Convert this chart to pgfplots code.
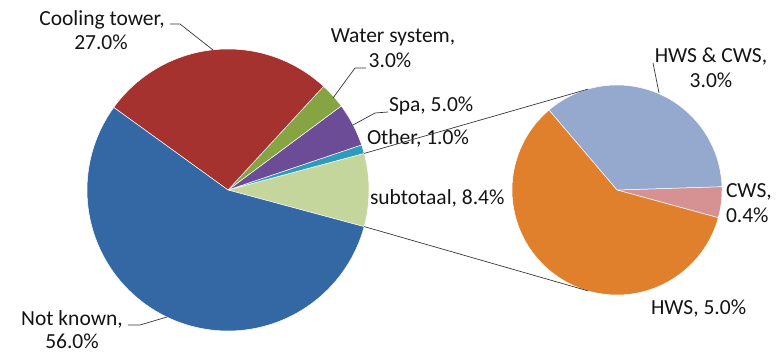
\documentclass[border=0pt]{standalone}
\usepackage{pgfplots}
\usepackage{pgfplotstable}
\pgfplotsset{compat=1.18}
\usepackage{fontspec}
\setmainfont{Carlito}

\definecolor{cNot}{RGB}{51,104,165}
\definecolor{cCool}{RGB}{166,50,48}
\definecolor{cWater}{RGB}{134,164,66}
\definecolor{cSpa}{RGB}{108,76,150}
\definecolor{cOther}{RGB}{44,156,186}
\definecolor{cSub}{RGB}{196,214,156}
\definecolor{cHWS}{RGB}{224,128,44}
\definecolor{cHC}{RGB}{149,168,206}
\definecolor{cCWS}{RGB}{214,146,146}
\definecolor{cLine}{RGB}{55,55,55}
\definecolor{cText}{RGB}{20,20,20}

% main pie, counter-clockwise from the split-off group
\pgfplotstableread{
value color
8.4  cSub
1.0  cOther
5.0  cSpa
3.0  cWater
27.0 cCool
56.0 cNot
}\maintable

% breakdown of the split-off group
\pgfplotstableread{
value color
0.4 cCWS
3.0 cHC
5.0 cHWS
}\subtable

% #1 table, #2/#3 centre, #4 radius, #5 start angle
\newcommand{\drawpie}[5]{%
  \pgfplotstablegetrowsof{#1}%
  \pgfmathtruncatemacro\lastrow{\pgfplotsretval-1}%
  \def\pietotal{0}%
  \pgfplotsforeachungrouped \i in {0,...,\lastrow}{%
    \pgfplotstablegetelem{\i}{value}\of#1%
    \pgfmathsetmacro\pietotal{\pietotal+\pgfplotsretval}%
  }%
  \def\pieacc{0}%
  \pgfplotsforeachungrouped \i in {0,...,\lastrow}{%
    \pgfplotstablegetelem{\i}{value}\of#1\let\sliceval\pgfplotsretval
    \pgfplotstablegetelem{\i}{color}\of#1\let\slicecol\pgfplotsretval
    \pgfmathsetmacro\angS{#5+\pieacc/\pietotal*360}%
    \pgfmathsetmacro\angE{#5+(\pieacc+\sliceval)/\pietotal*360}%
    \edef\next{\noexpand\addplot[fill=\slicecol, draw=white, line width=0.5pt,
      domain=\angS:\angE, samples=90]
      ({#2+#4*cos(x)},{#3+#4*sin(x)}) -- (axis cs:#2,#3) -- cycle;}%
    \next
    \pgfmathsetmacro\pieacc{\pieacc+\sliceval}%
  }%
}

\tikzset{lbl/.style={inner sep=0pt, outer sep=0pt, text=cText,
  font=\fontsize{21.5bp}{24bp}\selectfont}}

\begin{document}
\begin{tikzpicture}
\begin{axis}[
  width=779bp, height=352bp, scale only axis,
  xmin=0, xmax=779, ymin=0, ymax=352,
  hide axis, clip=false,
]
% keep the full drawing area as the picture's extent
\path (axis cs:0,0) rectangle (axis cs:779,352);

\drawpie{\maintable}{228}{162}{141}{-15.06}
\drawpie{\subtable}{617}{162}{105}{-15.3}

% leader lines
\addplot[cLine, line width=0.7pt, mark=none] coordinates {(170,328) (180,328) (213,302)};
\addplot[cLine, line width=0.7pt, mark=none] coordinates {(366,284) (355,284) (333,254)};
\addplot[cLine, line width=0.7pt, mark=none] coordinates {(388,240) (375,239) (353,227)};
\addplot[cLine, line width=0.7pt, mark=none] coordinates {(128,27) (140,27) (167,35)};
\addplot[cLine, line width=0.7pt, mark=none] coordinates {(653,289) (659,259)};

% labels
\node[lbl, anchor=base] at (axis cs:102,326) {Cooling tower,};
\node[lbl, anchor=base] at (axis cs:101,302) {27.0\%};
\node[lbl, anchor=base] at (axis cs:393,309) {Water system,};
\node[lbl, anchor=base] at (axis cs:390,284) {3.0\%};
\node[lbl, anchor=base west] at (axis cs:389,240) {Spa, 5.0\%};
\node[lbl, anchor=base west] at (axis cs:367,207) {Other, 1.0\%};
\node[lbl, anchor=base west] at (axis cs:370,147) {subtotaal, 8.4\%};
\node[lbl, anchor=base] at (axis cs:72,27) {Not known,};
\node[lbl, anchor=base] at (axis cs:72,4) {56.0\%};
\node[lbl, anchor=base] at (axis cs:711,289) {HWS \& CWS,};
\node[lbl, anchor=base] at (axis cs:711,264) {3.0\%};
\node[lbl, anchor=base west] at (axis cs:726,154) {CWS,};
\node[lbl, anchor=base west] at (axis cs:726,129) {0.4\%};
\node[lbl, anchor=base west] at (axis cs:651,37) {HWS, 5.0\%};

% connectors between the group slice and the breakdown pie
\addplot[cLine, line width=0.7pt, mark=none] coordinates {(364.2,198.6) (588.1,262.9)};
\addplot[cLine, line width=0.7pt, mark=none] coordinates {(364.2,125.4) (588.1,61.1)};
\end{axis}
\end{tikzpicture}
\end{document}
